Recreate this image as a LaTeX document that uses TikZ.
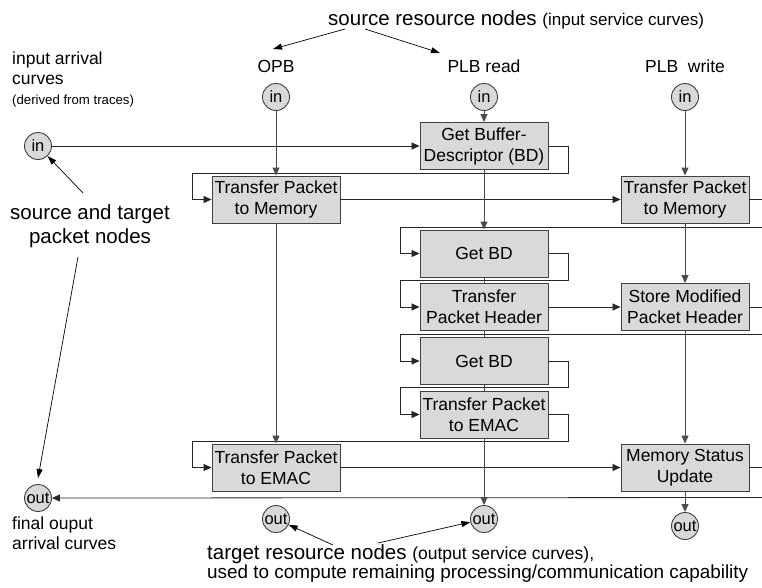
\documentclass[tikz,border=0pt]{standalone}
\usepackage{fontspec}
\setmainfont{Liberation Sans}
\usetikzlibrary{arrows.meta}
\begin{document}
\begin{tikzpicture}[x=1pt,y=-1pt,
  box/.style={draw=black!75, line width=0.9pt, fill=black!15, minimum width=128pt, minimum height=47pt, inner sep=1pt, align=center, font=\fontsize{17.5}{21}\selectfont},
  port/.style={circle, draw=black!75, line width=0.9pt, fill=black!15, minimum size=27pt, inner sep=0pt, font=\fontsize{16.5}{16.5}\selectfont},
  flow/.style={draw=black!85, line width=0.8pt},
  res/.style={draw=black!70, line width=1pt},
  arr/.style={-{Triangle[length=8pt,width=7pt]}},
  ann/.style={draw=black, line width=0.7pt, -{Triangle[length=9pt,width=6pt]}},
  lbl/.style={inner sep=0pt, anchor=base west},
  clbl/.style={inner sep=0pt, anchor=base},
  big/.style={font=\fontsize{17.5}{21}\selectfont},
  huge/.style={font=\fontsize{20.5}{24}\selectfont},
  small/.style={font=\fontsize{13.2}{16}\selectfont}
]
\useasboundingbox (0,0) rectangle (762,587);
\clip (0,0) rectangle (762,587);
\fill[white] (0,0) rectangle (762,587);

% boxes
\node[box] (gbd)  at (484,146)   {Get Buffer-\\Descriptor (BD)};
\node[box] (tpm1) at (276,199.5) {Transfer Packet\\to Memory};
\node[box] (tpm2) at (685,199.5) {Transfer Packet\\to Memory};
\node[box] (gbd1) at (484,253.5) {Get BD};
\node[box] (tph)  at (484,307)   {Transfer\\Packet Header};
\node[box] (smph) at (685,307)   {Store Modified\\Packet Header};
\node[box] (gbd2) at (484,361)   {Get BD};
\node[box] (tpe1) at (484,414.5) {Transfer Packet\\to EMAC};
\node[box] (tpe2) at (276,467.5) {Transfer Packet\\to EMAC};
\node[box] (msu)  at (685,467.5) {Memory Status\\Update};

% ports
\node[port] (inL)  at (38,146)  {in};
\node[port] (inO)  at (276,97)  {in};
\node[port] (inR)  at (484,97)  {in};
\node[port] (inW)  at (685,97)  {in};
\node[port] (outL) at (38,498)  {out};
\node[port] (outO) at (276,519) {out};
\node[port] (outR) at (484,519) {out};
\node[port] (outW) at (685,526) {out};

% labels
\node[lbl,huge] (title) at (328,25) {source resource nodes {\fontsize{17}{20}\selectfont (input service curves)}};
\node[clbl,big] (opb)  at (276,72) {OPB};
\node[clbl,big] (plbr) at (484,72) {PLB read};
\node[clbl,big] (plbw) at (685,72) {PLB\ \ write};
\node[lbl,big] (ia1) at (12,64) {input arrival};
\node[lbl,big] (ia2) at (12,84) {curves};
\node[lbl,small] (ia3) at (12,104) {(derived from traces)};
\node[clbl,huge] (sp1) at (90,219) {source and target};
\node[clbl,huge] (sp2) at (90,243) {packet nodes};
\node[lbl,big] (fo1) at (12,529) {final ouput};
\node[lbl,big] (fo2) at (12,549) {arrival curves};
\node[lbl,huge] (tr1) at (207,559) {target resource nodes {\fontsize{17.5}{20}\selectfont (output service curves),}};
\node[lbl,font=\fontsize{18.9}{20}\selectfont] (tr2) at (207,578) {used to compute remaining processing/communication capability};

% packet flow
\draw[flow,arr] (inL) -- (gbd);
\draw[flow,arr] (gbd.east) -- (568,146) -- (568,173) -- (192,173) |- (tpm1.west);
\draw[flow,arr] (tpm1) -- (tpm2);
\draw[flow,arr] (tpm2.east) -- (766,199.5) -- (766,227) -- (400,227) |- (gbd1.west);
\draw[flow,arr] (gbd1.east) -- (568,253.5) -- (568,280) -- (400,280) |- (tph.west);
\draw[flow,arr] (tph) -- (smph);
\draw[flow,arr] (smph.east) -- (766,307) -- (766,334) -- (400,334) |- (gbd2.west);
\draw[flow,arr] (gbd2.east) -- (568,361) -- (568,387.5) -- (400,387.5) |- (tpe1.west);
\draw[flow,arr] (tpe1.east) -- (568,414.5) -- (568,441) -- (192,441) |- (tpe2.west);
\draw[flow,arr] (tpe2) -- (msu);
\draw[flow,arr] (msu.east) -- (766,467.5) -- (766,497.5) -- (outL.east);

% resource flow
\draw[res,arr] (inO) -- (tpm1);
\draw[res,arr] (tpm1) -- (tpe2);
\draw[res,arr] (inR) -- (gbd);
\draw[res,arr] (gbd) -- (gbd1);
\draw[res] (gbd1) -- (tph);
\draw[res] (tph) -- (gbd2);
\draw[res] (gbd2) -- (tpe1);
\draw[res,arr] (tpe1) -- (outR);
\draw[res,arr] (inW) -- (tpm2);
\draw[res,arr] (tpm2) -- (smph);
\draw[res,arr] (smph) -- (msu);
\draw[res,arr] (msu) -- (outW);

% annotation arrows
\coordinate (t1) at (345,29);
\coordinate (t2) at (365,29);
\coordinate (e1) at (273,49);
\coordinate (e2) at (440,53);
\draw[ann] (t1) -- (e1);
\draw[ann] (t2) -- (e2);
\coordinate (s1) at (83,193);
\coordinate (s2) at (78,257);
\draw[ann] (s1) -- (inL);
\draw[ann] (s2) -- (38,478);
\coordinate (b1) at (333,545);
\coordinate (b2) at (378,543);
\draw[ann] (b1) -- (outO);
\draw[ann] (b2) -- (outR);
\end{tikzpicture}
\end{document}
